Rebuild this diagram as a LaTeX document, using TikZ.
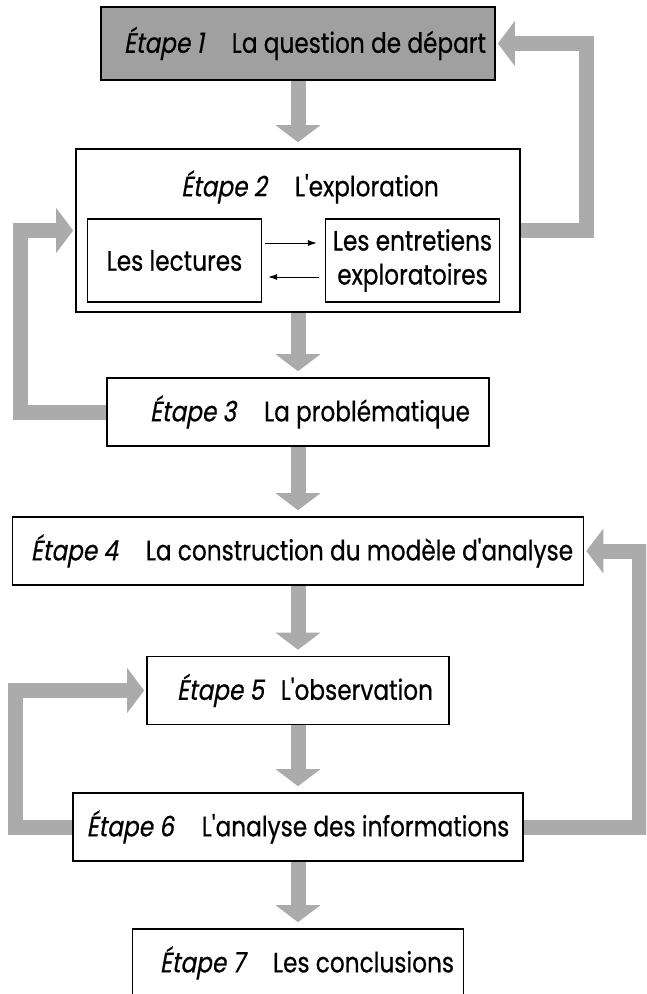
\documentclass[tikz,border=0pt]{standalone}
\usepackage{fontspec}
\newfontfamily\flowfont{Poppins}[FakeStretch=0.83,FakeBold=0.6,ItalicFont=Poppins,ItalicFeatures={FakeSlant=0.18}]
\usetikzlibrary{arrows.meta}
\definecolor{flowgray}{HTML}{ABABAB}
\definecolor{startgray}{HTML}{A0A0A0}
\newcommand{\etape}[3][1em]{\textit{Étape #2}\hspace{#1}#3}

\begin{document}
\begin{tikzpicture}[x=1pt,y=-1pt,font=\flowfont\fontsize{28}{34}\selectfont]
    \tikzstyle{stage}=[draw, line width=1.6pt, minimum height=68pt, inner sep=0pt]
    \tikzstyle{subbox}=[draw, line width=1.2pt, minimum width=174pt, minimum height=83pt, inner sep=0pt, align=center]
    \tikzstyle{stepflow}=[draw=flowgray, line width=15pt, line join=miter, -{Triangle[width=44pt,length=17pt]}, shorten >=6pt]
    \tikzstyle{backflow}=[stepflow, shorten >=2pt]
    \tikzstyle{crossarrow}=[line width=1pt, -{Latex[length=9pt,width=6pt]}]
    \useasboundingbox (0,0) rectangle (646,994);
    \clip (0,0) rectangle (646,994);
    \node[stage, fill=startgray, minimum width=394pt, minimum height=73pt] (q1) at (298,43.5) {\hspace*{14pt}\etape{1}{La question de départ}};
    \node[stage, minimum width=444pt, minimum height=163pt] (q2) at (298,230.5) {};
    \node (q2title) at (310,187) {\etape{2}{L'exploration}};
    \node[subbox] (lect) at (174.5,260.5) {Les lectures};
    \node[subbox] (entr) at (412.5,260.5) {Les entretiens\\exploratoires};
    \node[stage, minimum width=382pt] (q3) at (298,412) {\hspace*{24pt}\etape{3}{La problématique}};
    \node[stage, minimum width=571pt] (q4) at (298,551) {\hspace*{8pt}\etape{4}{La construction du modèle d'analyse}};
    \node[stage, minimum width=302pt] (q5) at (298,690.5) {\hspace*{14pt}\etape[0.6em]{5}{L'observation}};
    \node[stage, minimum width=450pt] (q6) at (298,827) {\etape{6}{L'analyse des informations}};
    \node[stage, minimum width=331pt] (q7) at (298,963) {\hspace*{18pt}\etape{7}{Les conclusions}};
    % echanges entre lectures et entretiens
    \draw[crossarrow, shorten <=3pt, shorten >=8pt] ([yshift=17.5pt]lect.east) -- ([yshift=17.5pt]entr.west);
    \draw[crossarrow, shorten <=6pt, shorten >=6pt] ([yshift=-16.5pt]entr.west) -- ([yshift=-16.5pt]lect.east);
    % suite des etapes
    \draw[stepflow] (q1) -- (q2);
    \draw[stepflow] (q2) -- (q3);
    \draw[stepflow] (q3) -- (q4);
    \draw[stepflow] (q4) -- (q5);
    \draw[stepflow] (q5) -- (q6);
    \draw[stepflow] (q6) -- (q7);
    % retours
    \coordinate (r1) at (586.5,0);
    \coordinate (l1) at (20,0);
    \coordinate (r2) at (639,0);
    \coordinate (l2) at (15,0);
    \draw[backflow] (q2.east) -- (q2.east -| r1) -- (q1.east -| r1) -- (q1.east);
    \draw[backflow] (q3.west) -- (q3.west -| l1) -- (q2.west -| l1) -- (q2.west);
    \draw[backflow] (q6.east) -- (q6.east -| r2) -- (q4.east -| r2) -- (q4.east);
    \draw[backflow] (q6.west) -- (q6.west -| l2) -- (q5.west -| l2) -- (q5.west);
\end{tikzpicture}
\end{document}
